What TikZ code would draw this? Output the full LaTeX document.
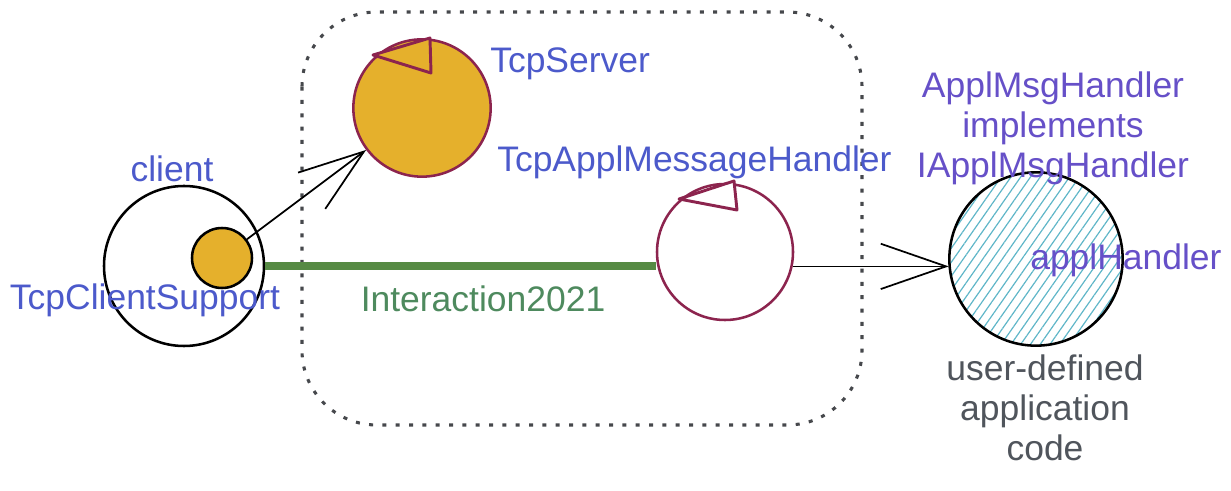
\documentclass[tikz,border=0pt]{standalone}
\usepackage{fontspec}
\setmainfont{Liberation Sans}
\usepackage{tikz}
\usetikzlibrary{arrows.meta, patterns.meta}
\usepackage{xcolor}
\definecolor{srvyellow}{RGB}{229,176,44}
\definecolor{srvmaroon}{RGB}{140,36,78}
\definecolor{lblblue}{RGB}{76,90,203}
\definecolor{lblpurple}{RGB}{102,80,200}
\definecolor{linkgreen}{RGB}{86,138,68}
\definecolor{txtgreen}{RGB}{78,138,94}
\definecolor{txtgray}{RGB}{80,85,92}
\definecolor{ctxgray}{RGB}{70,72,76}
\definecolor{hatchblue}{RGB}{95,182,200}

\begin{document}
\begin{tikzpicture}[x=0.75pt,y=0.75pt,yscale=-1,xscale=1,
  actor/.style={circle, draw, line width=1.9pt, inner sep=0pt},
  lbl/.style={inner sep=0pt, font=\fontsize{26.6}{30}\selectfont},
  arr/.style={line width=1.3pt, -{Straight Barb[length=49pt,width=34pt,line width=1.3pt]}}]
\useasboundingbox (0,0) rectangle (1231,491);

%Shape: Rounded Rectangle [context]
\draw [ctxgray, line width=2.3pt, dash pattern=on 3pt off 7pt, rounded corners=56pt] (302,12) rectangle (862,425);

%Shape: Circle [client]
\node [actor, minimum size=120pt] (client) at (184,266) {};
%Shape: Circle [client support]
\node [actor, fill=srvyellow, minimum size=45pt] (csup) at (222,258) {};
%Shape: Circle [server]
\node [actor, draw=srvmaroon, fill=srvyellow, minimum size=103pt] (server) at (422,108) {};
%Shape: Circle [message handler]
\node [actor, draw=srvmaroon, minimum size=102pt] (handler) at (725,252) {};
%Shape: Circle [appl handler]
\node [actor, pattern={Lines[angle=55,distance=6pt,line width=0.9pt]}, pattern color=hatchblue, minimum size=130pt] (appl) at (1036,259) {};

%Shape: Triangle
\draw [srvmaroon, line width=2.2pt, fill=srvyellow, line join=round] (373,55) -- (430,38) -- (431,73) -- cycle;
%Shape: Triangle
\draw [srvmaroon, line width=2.2pt, fill=white, line join=round] (679,199) -- (734,181) -- (737,210) -- cycle;

%Straight Lines
\draw [arr] (csup) -- (server);
%Straight Lines
\draw [linkgreen, line width=6pt] (client.east) -- (client.east -| handler.west);
%Straight Lines
\draw [arr] (handler.-12) -- (handler.-12 -| appl.west);

% Text Node
\node [lbl, lblblue, anchor=base] (clientlbl) at (172,182) {client};
% Text Node
\node [lbl, lblblue, anchor=base] (csuplbl) at (145,310) {TcpClientSupport};
% Text Node
\node [lbl, lblblue, anchor=base west] (serverlbl) at (490,73) {TcpServer};
% Text Node
\node [lbl, lblblue, anchor=base west] (handlerlbl) at (497,172) {TcpApplMessageHandler};
% Text Node
\node [lbl, txtgreen, anchor=base] (linklbl) at (483,312) {Interaction2021};
% Text Node
\node [lbl, lblpurple, anchor=north, align=center] (impllbl) at (1053,72) {ApplMsgHandler\\implements\\IApplMsgHandler};
% Text Node
\node [lbl, lblpurple, anchor=base west] (appllbl) at (1030,270) {applHandler};
% Text Node
\node [lbl, txtgray, anchor=north, align=center] (codelbl) at (1045,355) {user-defined\\application\\code};

\end{tikzpicture}
\end{document}
